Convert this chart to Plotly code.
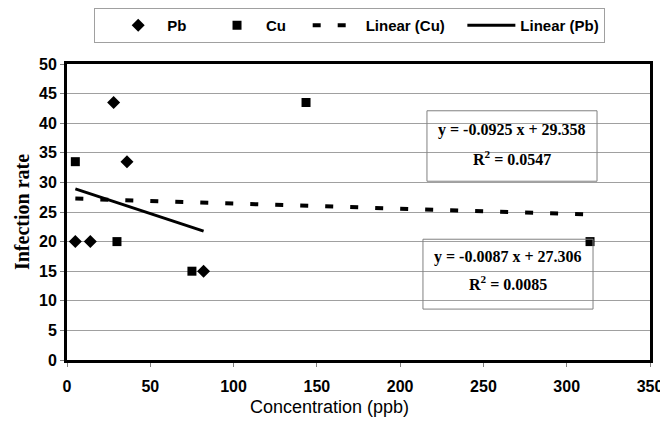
import plotly.graph_objects as go

# Data
pb_x = [5, 14, 28, 36, 82]
pb_y = [20, 20, 43.5, 33.5, 15]
cu_x = [5, 30, 75, 143.5, 314]
cu_y = [33.5, 20, 15, 43.5, 20]

pb_slope, pb_int, pb_r2 = -0.0925, 29.358, 0.0547
cu_slope, cu_int, cu_r2 = -0.0087, 27.306, 0.0085

x_ticks = [0, 50, 100, 150, 200, 250, 300, 350]
y_ticks = [0, 5, 10, 15, 20, 25, 30, 35, 40, 45, 50]

def trend(xs, m, b):
    xr = [min(xs), max(xs)]
    return xr, [m * v + b for v in xr]

pbx_t, pby_t = trend(pb_x, pb_slope, pb_int)
cux_t, cuy_t = trend(cu_x, cu_slope, cu_int)

NB = "\u00a0"
fig = go.Figure()
fig.add_trace(go.Scatter(x=pb_x, y=pb_y, mode="markers", name="Pb" + NB * 4,
                         marker=dict(symbol="diamond", size=10, color="black")))
fig.add_trace(go.Scatter(x=cu_x, y=cu_y, mode="markers", name="Cu" + NB * 4,
                         marker=dict(symbol="square", size=9, color="black")))
fig.add_trace(go.Scatter(x=cux_t, y=cuy_t, mode="lines", name="Linear (Cu)" + NB * 3,
                         line=dict(color="black", width=4, dash="8px,17px")))
fig.add_trace(go.Scatter(x=pbx_t, y=pby_t, mode="lines", name="Linear (Pb)",
                         line=dict(color="black", width=3)))

serif = "Liberation Serif"
sans = "Liberation Sans"

def eq_box(x0, x1, y0, y1, ty1, ty2, m, b, r2):
    sign = "+" if b >= 0 else "-"
    cx = (x0 + x1) / 2
    fig.add_shape(type="rect", xref="x", yref="y", x0=x0, x1=x1, y0=y0, y1=y1,
                  line=dict(color="#808080", width=1), layer="above")
    fig.add_annotation(x=cx, y=ty1, xref="x", yref="y", showarrow=False,
                       text=f"y = {m:.4f} x {sign} {abs(b):.3f}",
                       font=dict(family=serif, size=16, color="black", weight="bold"))
    fig.add_annotation(x=cx, y=ty2, xref="x", yref="y", showarrow=False,
                       text=f"R<sup>2</sup> = {r2:.4f}",
                       font=dict(family=serif, size=16, color="black", weight="bold"))

eq_box(216.1, 318.2, 30.2, 42.1, 38.9, 34.1, pb_slope, pb_int, pb_r2)
eq_box(213.7, 315.8, 8.6, 20.4, 17.4, 13.0, cu_slope, cu_int, cu_r2)

# x-axis title (sits slightly left of centre in the reference)
fig.add_annotation(x=0.451, y=-0.158, xref="paper", yref="paper", showarrow=False,
                   text="Concentration (ppb)", xanchor="center", yanchor="middle",
                   font=dict(family=sans, size=18, color="black"))

# page body has an 8px margin: figure is 660x419 placed at (8, 8)
W, H = 660, 419
fig.update_layout(
    width=W, height=H,
    margin=dict(l=59, r=18, t=56, b=67, autoexpand=False),
    paper_bgcolor="white", plot_bgcolor="white",
    showlegend=True,
    legend=dict(orientation="h", xref="container", yref="container",
                x=86 / W, y=1, xanchor="left", yanchor="top",
                bordercolor="#a0a0a0", borderwidth=1, bgcolor="white",
                itemwidth=48,
                title=dict(text=NB, side="left",
                           font=dict(family=sans, size=15, color="black")),
                font=dict(family=sans, size=15, color="black", weight="bold"),
                tracegroupgap=0),
    xaxis=dict(range=[0, 350], tickvals=x_ticks, showgrid=False, automargin=False,
               showline=True, linecolor="black", linewidth=3, mirror=True,
               ticks="outside", ticklen=4, tickcolor="#808080", ticklabelstandoff=6,
               tickfont=dict(family=sans, size=16, color="black", weight="bold"),
               zeroline=False),
    yaxis=dict(range=[0, 50], tickvals=y_ticks, showgrid=True, gridcolor="#a0a0a0",
               automargin=False,
               gridwidth=1, showline=True, linecolor="black", linewidth=3, mirror=True,
               ticks="outside", ticklen=4, tickcolor="#808080",
               tickfont=dict(family=sans, size=16, color="black", weight="bold"),
               title=dict(text="Infection rate", standoff=5,
                          font=dict(family=serif, size=20, color="black", weight="bold")),
               zeroline=False),
)

fig.write_html("out.html")
